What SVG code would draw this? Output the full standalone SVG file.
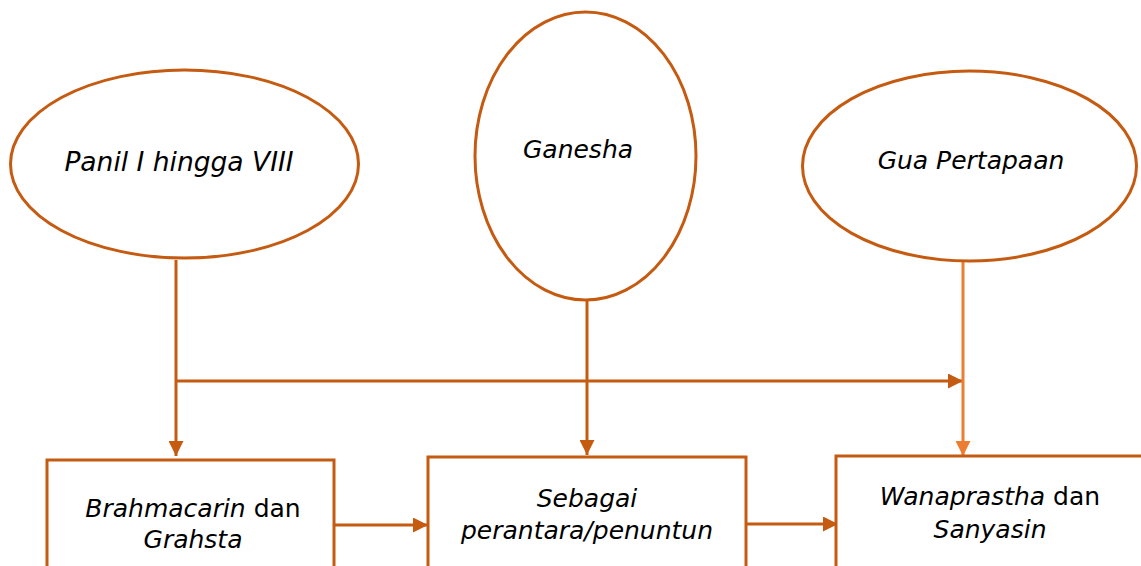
<svg xmlns="http://www.w3.org/2000/svg" width="1141" height="566" viewBox="0 0 1141 566">
<style>
.n{fill:#fff;stroke:#C55A11;stroke-width:3}
.t{font-family:"DejaVu Sans",Verdana,sans-serif;font-size:25px;fill:#000;text-anchor:middle}
.i{font-style:italic}
.c{stroke:#C55A11;stroke-width:3;fill:none}
.c2{stroke:#ED7D31;stroke-width:3;fill:none}
</style>
<defs>
<marker id="a" viewBox="0 0 10 10" refX="10" refY="5" markerWidth="5" markerHeight="5" orient="auto" markerUnits="strokeWidth"><path d="M0,0L10,5L0,10z" fill="#C55A11"/></marker>
<marker id="b" viewBox="0 0 10 10" refX="10" refY="5" markerWidth="5" markerHeight="5" orient="auto" markerUnits="strokeWidth"><path d="M0,0L10,5L0,10z" fill="#ED7D31"/></marker>
</defs>
<rect width="1141" height="566" fill="#fff"/>
<g id="connectors">
<path class="c" d="M176,260V456" marker-end="url(#a)"/>
<path class="c" d="M176,381H963" marker-end="url(#a)"/>
<path class="c" d="M587,300V455" marker-end="url(#a)"/>
<path class="c2" d="M963,262V456" marker-end="url(#b)"/>
<path class="c" d="M334,525H428" marker-end="url(#a)"/>
<path class="c" d="M746,524H838" marker-end="url(#a)"/>
</g>
<g id="panil">
<ellipse class="n" cx="184.5" cy="164" rx="174" ry="94"/>
<text class="t i" x="179" y="171" style="font-size:26.5px">Panil I hingga VIII</text>
</g>
<g id="ganesha">
<ellipse class="n" cx="585.5" cy="156" rx="110.5" ry="144"/>
<text class="t i" x="578" y="158">Ganesha</text>
</g>
<g id="gua">
<ellipse class="n" cx="969.5" cy="166" rx="167" ry="95"/>
<text class="t i" x="971" y="169">Gua Pertapaan</text>
</g>
<g id="brahmacarin">
<rect class="n" x="47" y="460" width="287" height="120"/>
<text class="t" x="193" y="517"><tspan class="i">Brahmacarin</tspan> dan</text>
<text class="t i" x="193" y="548">Grahsta</text>
</g>
<g id="perantara">
<rect class="n" x="428" y="457" width="318" height="120"/>
<text class="t i" x="587" y="507">Sebagai</text>
<text class="t i" x="587" y="539">perantara/penuntun</text>
</g>
<g id="wanaprastha">
<rect class="n" x="836" y="456" width="320" height="120"/>
<text class="t" x="990" y="505"><tspan class="i">Wanaprastha</tspan> dan</text>
<text class="t i" x="990" y="538">Sanyasin</text>
</g>
</svg>
